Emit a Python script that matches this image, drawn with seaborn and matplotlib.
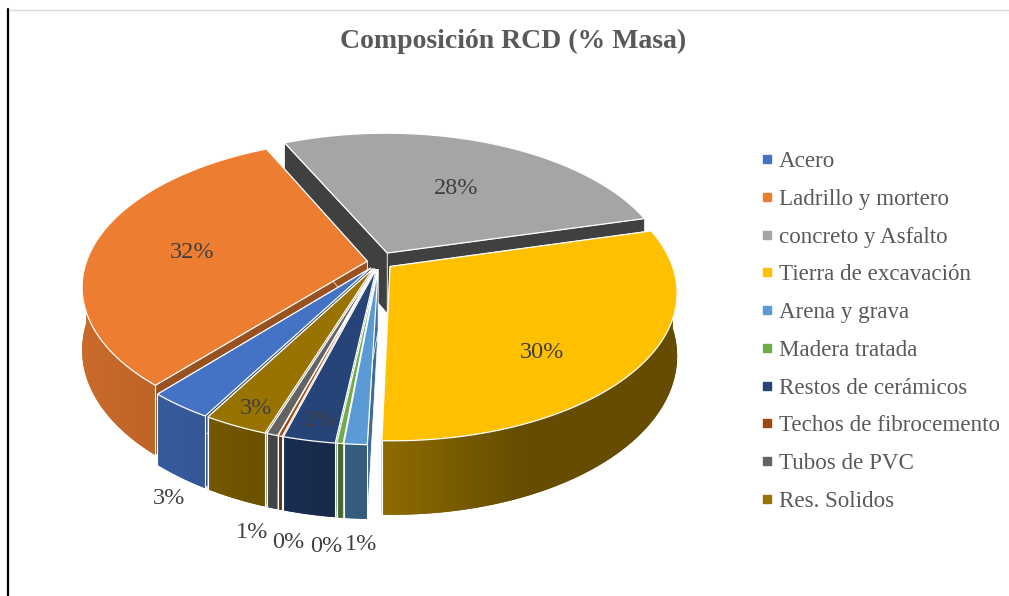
import numpy as np
import matplotlib
matplotlib.use('Agg')
import matplotlib.pyplot as plt
from matplotlib.lines import Line2D
from matplotlib.patches import Polygon
from matplotlib.colors import to_rgb
import seaborn as sns

categories = ['Acero', 'Ladrillo y mortero', 'concreto y Asfalto', 'Tierra de excavación',
              'Arena y grava', 'Madera tratada', 'Restos de cerámicos',
              'Techos de fibrocemento', 'Tubos de PVC', 'Res. Solidos']
values = [3.1, 31.85, 27.85, 29.7, 1.1, 0.3, 2.5, 0.2, 0.55, 3.1]
colors = ['#4472c4', '#ed7d31', '#a5a5a5', '#ffc000', '#5b9bd5',
          '#70ad47', '#264478', '#9e480e', '#636363', '#997300']
title = 'Composición RCD (% Masa)'

# layout of the 3d pie, in pixels of the figure
cx, cy = 379, 262
rx, ry = 281, 143
persp = 0.17
depth = 61
first_angle = 119.6
explode = [0.05, 0.042, 0.07, 0.05, 0.05, 0.05, 0.05, 0.05, 0.05, 0.05]
face_shade = [0.65, 0.65, 0.39, 0.6, 0.7, 0.65, 0.65, 0.65, 0.65, 0.65]
draw_order = [2, 1, 3, 0, 9, 8, 7, 6, 5, 4]
label_pos = [(169, 499), (192, 252), (456, 189), (542, 352), (361, 544),
             (326, 546), (320, 420), (288, 542), (252, 532), (256, 408)]

sns.set_theme(style='white')
plt.rcParams['font.family'] = ['Liberation Serif', 'DejaVu Serif']
palette = sns.color_palette(colors)


def project(u, v, z=0.0):
    s = 1 / (1 - persp * v)
    return cx + rx * u * s, cy + ry * v * s + depth * z * s


def light(x):
    # rim gets darker from left to right
    return np.interp(x, [85, 160, 210, 300, 380, 520, 680],
                     [0.85, 0.80, 0.76, 0.66, 0.56, 0.40, 0.40])


def shade(color, f):
    return tuple(np.array(to_rgb(color)) * f)


fig = plt.figure(figsize=(10.09, 5.96), dpi=100)
ax = fig.add_axes([0, 0, 1, 1])
ax.axis('off')

ax.plot([8, 8], [9, 596], color='black', lw=1.6)
ax.plot([9, 1009], [9.5, 9.5], color='#d9d9d9', lw=1)

shares = np.array(values) / sum(values) * 360
starts = first_angle + np.concatenate([[0], np.cumsum(shares)[:-1]])

for z, i in enumerate(draw_order):
    z = 2 + z
    th = np.radians(np.linspace(starts[i], starts[i] + shares[i], max(int(shares[i] * 2), 3)))
    mid = np.radians(starts[i] + shares[i] / 2)
    u0, v0 = explode[i] * np.cos(mid), explode[i] * np.sin(mid)
    u = u0 + np.cos(th)
    v = v0 + np.sin(th)

    # flat side faces
    for k in [0, -1]:
        x0, y0 = project(u0, v0)
        x1, y1 = project(u[k], v[k])
        x2, y2 = project(u[k], v[k], 1)
        x3, y3 = project(u0, v0, 1)
        ax.fill([x0, x1, x2, x3], [y0, y1, y2, y3], color=shade(palette[i], face_shade[i]),
                ec='white', lw=0.5, zorder=z)

    # outer wall, only the part that faces the viewer
    front = np.sin(th) > 0
    xt, yt = project(u, v)
    if front.sum() > 1:
        xf, yf = xt[front], yt[front]
        xb, yb = project(u[front], v[front], 1)
        px, py = np.r_[xf, xb[::-1]], np.r_[yf, yb[::-1]]
        base = Polygon(np.c_[px, py], fc=shade(palette[i], light(px.mean())), ec='none', zorder=z)
        ax.add_patch(base)
        xs = np.linspace(px.min(), px.max(), 64)
        grad = np.array([shade(palette[i], light(x)) for x in xs])[np.newaxis, :, :]
        im = ax.imshow(grad, extent=[px.min(), px.max(), py.max(), py.min()], aspect='auto',
                       interpolation='bilinear', zorder=z)
        im.set_clip_path(Polygon(np.c_[px, py], transform=ax.transData))
        if front[0]:
            ax.plot([xf[0], xb[0]], [yf[0], yb[0]], color='white', lw=0.8, zorder=z)
        if front[-1]:
            ax.plot([xf[-1], xb[-1]], [yf[-1], yb[-1]], color='white', lw=0.8, zorder=z)

    # top
    x0, y0 = project(u0, v0)
    ax.fill(np.r_[x0, xt], np.r_[y0, yt], fc=palette[i], ec='white', lw=0.9, zorder=z)

ax.set_xlim(0, 1009)
ax.set_ylim(596, 0)

for val, pos in zip(values, label_pos):
    ax.text(pos[0], pos[1], f'{val:.0f}%', color='#404040', fontsize=17.5, ha='center', va='center', zorder=30)

ax.text(513, 41, title, color='#595959', fontsize=20, fontweight='bold', ha='center', va='center')

handles = [Line2D([], [], marker='s', ls='none', ms=6.2, color=c) for c in palette]
ax.legend(handles, categories, loc='upper left', bbox_to_anchor=(759, 151), bbox_transform=ax.transData,
          frameon=False, fontsize=16.6, labelcolor='#595959', handlelength=0.7, handletextpad=0.15,
          labelspacing=0.72, borderpad=0, borderaxespad=0)

fig.savefig('out.png', dpi=100)
